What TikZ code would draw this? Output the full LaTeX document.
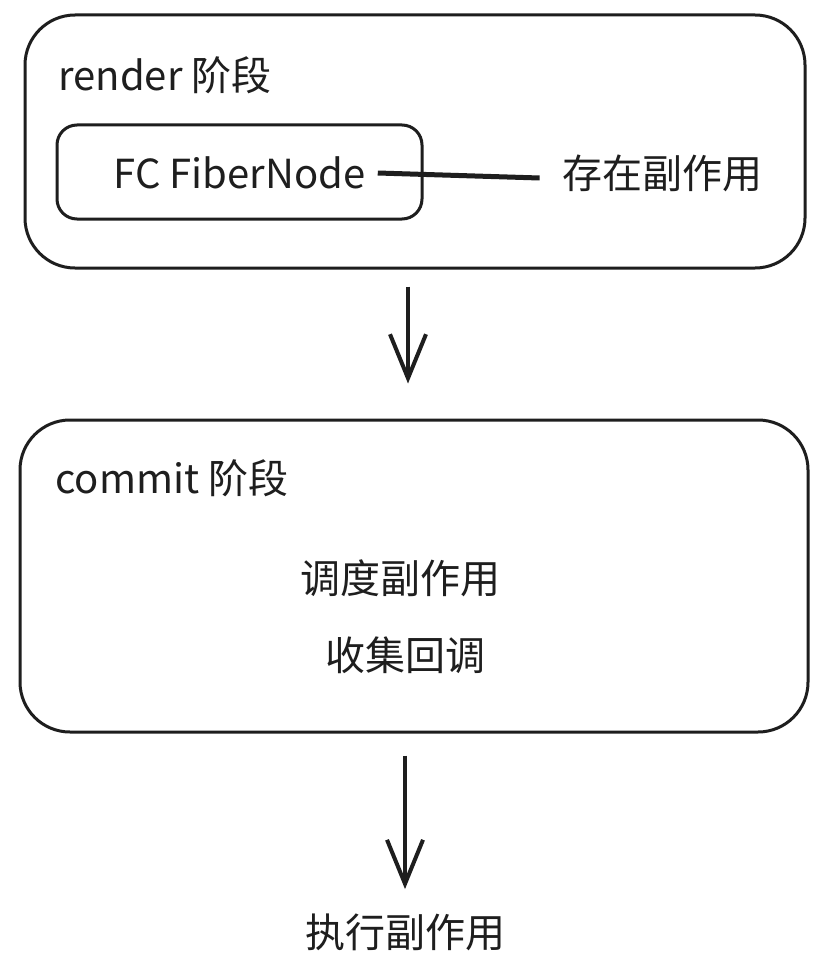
\documentclass[tikz,border=0pt]{standalone}
\usepackage{fontspec}
\usepackage{tikz}
\usetikzlibrary{arrows.meta, positioning}
\newfontfamily\cjk{Noto Sans CJK SC}
\definecolor{ink}{HTML}{1E1E1E}

\begin{document}
\begin{tikzpicture}[
    x=0.5pt, y=-0.5pt,
    phase/.style={rectangle, draw=ink, line width=1.5pt, rounded corners=25pt},
    label/.style={font=\cjk\fontsize{20}{24}\selectfont, text=ink, inner sep=0pt},
    arrow/.style={-{Straight Barb[length=22pt, width=18pt, line width=2pt]}, draw=ink, line width=2pt}
]
\path[use as bounding box, fill=white] (0,0) rectangle (823,979);

% render phase
\node[phase, minimum width=390pt, minimum height=126.5pt] (render) at (415,141.5) {};
\node[label, anchor=west] (rendertitle) at (58,75) {render 阶段};
\node[phase, rounded corners=10pt, minimum width=182.5pt, minimum height=47pt] (fcbox) at (239.5,172) {};
\node[label] (fc) at (239.5,173) {FC FiberNode};
\node[label] (effect) at (662,173) {存在副作用};

% commit phase
\node[phase, minimum width=394pt, minimum height=156pt] (commit) at (414,576) {};
\node[label, anchor=west] (committitle) at (55,478) {commit 阶段};
\node[label] (schedule) at (400,578) {调度副作用};
\node[label] (collect) at (405,655) {收集回调};

% result
\node[label] (run) at (405,932) {执行副作用};

% Arrows
\draw[draw=ink, line width=2.5pt] ([xshift=6pt]fc.east) -- ([xshift=-11pt, yshift=-2.5pt]effect.west);
\draw[arrow] ([xshift=-3.5pt, yshift=-8.5pt]render.south) -- ([xshift=-3pt, yshift=17.5pt]commit.north);
\draw[arrow] ([xshift=-4.5pt, yshift=-11pt]commit.south) -- ([yshift=12pt]run.north);

\end{tikzpicture}
\end{document}
